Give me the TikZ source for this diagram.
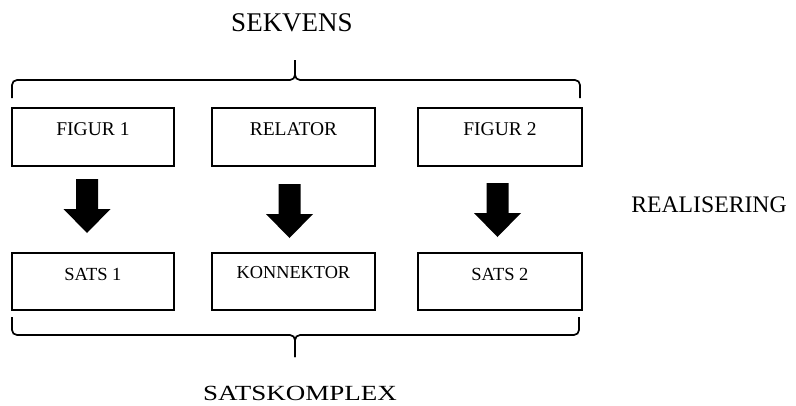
\documentclass[tikz,border=0pt]{standalone}
\usepackage{fontspec}
\setmainfont{Liberation Serif}
\begin{document}
\begin{tikzpicture}[x=1pt,y=-1pt,
  box/.style={draw, line width=1.9pt, inner sep=0pt, minimum width=162pt, anchor=north west},
  toplbl/.style={font=\fontsize{19.5}{20}\selectfont, text height=28pt, text depth=30pt},
  botlbl/.style={font=\fontsize{18.5}{19}\selectfont, text height=28pt, text depth=29pt},
  brace/.style={draw, line width=1.7pt, rounded corners=5pt},
  blockarrow/.style={fill=black},
  big/.style={font=\fontsize{27}{28}\selectfont, anchor=base, inner sep=0pt}]
\useasboundingbox (0,0) rectangle (796,405);

% top row
\node[box, toplbl] (f1) at (11,107) {FIGUR 1};
\node[box, toplbl, minimum width=163pt] (rel) at (211,107) {RELATOR};
\node[box, toplbl, minimum width=164pt] (f2) at (417,107) {FIGUR 2};

% bottom row
\node[box, botlbl] (s1) at (11,252) {SATS 1};
\node[box, botlbl, minimum width=163pt, font=\fontsize{18.3}{19}\selectfont, text height=26pt, text depth=31pt] (kon) at (211,252) {KONNEKTOR};
\node[box, botlbl, minimum width=164pt] (s2) at (417,252) {SATS 2};

% block arrows
\foreach \cx/\ty in {87/179, 289.5/184, 497.5/183}{
  \fill[blockarrow] (\cx-11,\ty) -- (\cx+11,\ty) -- (\cx+11,\ty+30) -- (\cx+23.5,\ty+30)
     -- (\cx,\ty+54) -- (\cx-23.5,\ty+30) -- (\cx-11,\ty+30) -- cycle;
}

% braces
\coordinate (tb) at (295,80);
\draw[brace] (12,98) -- (12,80) -- (tb) -- (295,60);
\draw[brace] (580,98) -- (580,80) -- (tb) -- (295,60);
\coordinate (bb) at (295,335);
\draw[brace] (12,317) -- (12,335) -- (bb) -- (295,357);
\draw[brace] (579,317) -- (579,335) -- (bb) -- (295,357);

% labels
\node[big] (sekv) at (292,31.7) {SEKVENS};
\node[big] (satsk) at (300,400.5) {\scalebox{1}[0.8]{SATSKOMPLEX}};
\node[big, font=\fontsize{23.7}{24}\selectfont] (real) at (709,212) {REALISERING};
\end{tikzpicture}
\end{document}
